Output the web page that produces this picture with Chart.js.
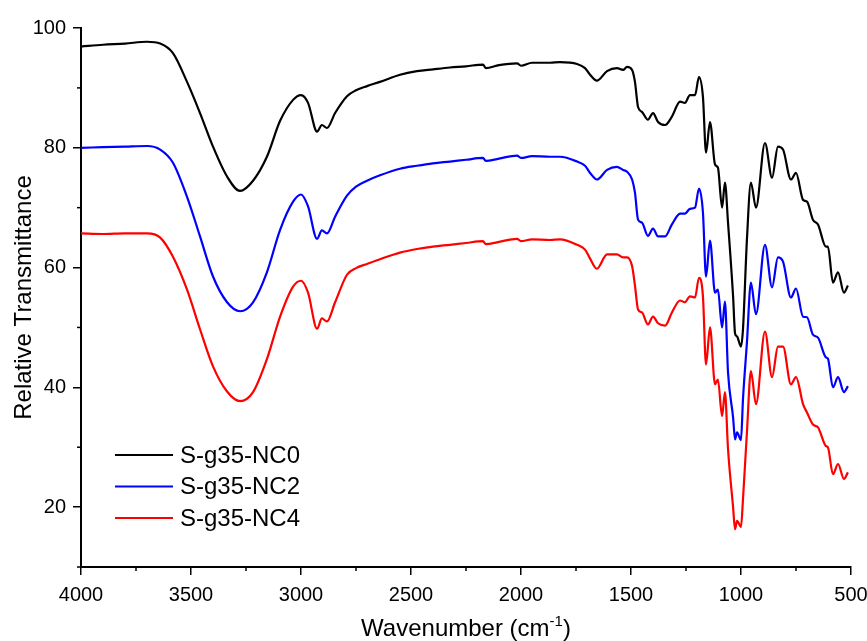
<!DOCTYPE html>
<html>
<head>
<meta charset="utf-8">
<script src="https://cdn.jsdelivr.net/npm/chart.js@4/dist/chart.umd.min.js"></script>
<style>
  html, body { margin: 0; padding: 0; background: #fff; }
  #wrap { width: 867px; height: 641px; position: relative; }
</style>
</head>
<body>
<div id="wrap"><canvas id="ftir-chart" width="867" height="641"></canvas></div>
<script>
// wavenumbers (cm-1), shared by the three spectra
const wavenumbers = [4000, 3900, 3800, 3700, 3640, 3582, 3518, 3459, 3400, 3336, 3277, 3218, 3155, 3095, 3036, 3000, 2968, 2927, 2905, 2882, 2845, 2791, 2750, 2700, 2641, 2550, 2473, 2400, 2323, 2250, 2173, 2160, 2100, 2018, 2000, 1950, 1868, 1823, 1745, 1709, 1686, 1655, 1609, 1564, 1536, 1518, 1495, 1482, 1468, 1450, 1423, 1400, 1377, 1345, 1314, 1277, 1255, 1232, 1209, 1191, 1173, 1159, 1141, 1118, 1105, 1086, 1073, 1059, 1036, 1027, 1018, 1000, 991, 973, 955, 932, 891, 859, 832, 809, 773, 750, 718, 700, 673, 650, 614, 605, 582, 559, 532, 514];

const nc0 = [96.9, 97.2, 97.4, 97.7, 97.4, 95.8, 91, 85.8, 80.2, 75.2, 72.8, 74.5, 78.5, 84.5, 88, 88.8, 87.5, 82.7, 83.8, 83.3, 85.8, 88.6, 89.6, 90.3, 91, 92.2, 92.8, 93.1, 93.4, 93.6, 93.9, 93.3, 93.8, 94.1, 93.7, 94.2, 94.2, 94.3, 94, 93.3, 92.2, 91.2, 92.8, 93.3, 93, 93.5, 93, 91, 86.8, 86, 84.7, 85.8, 84.3, 83.8, 85.2, 87.7, 87.5, 88.8, 88.8, 91.8, 88.5, 79.2, 84.3, 77.2, 76.7, 70, 74.2, 67.5, 55.2, 49, 48.5, 46.8, 49.7, 64.7, 74.2, 70, 80.8, 75, 80.2, 79.7, 74.7, 75.8, 71.3, 71, 68, 67.2, 63.5, 63.5, 57.5, 59.2, 55.8, 57];

const nc2 = [80, 80.1, 80.2, 80.3, 79.7, 77.5, 71.8, 65.2, 58.5, 54.2, 52.7, 54.2, 59.2, 66.3, 71, 72.2, 70.2, 64.8, 66.2, 65.7, 68.5, 72, 73.5, 74.5, 75.4, 76.5, 77, 77.4, 77.7, 78, 78.3, 77.8, 78.2, 78.7, 78.3, 78.6, 78.5, 78.5, 77.7, 77, 75.8, 74.7, 76.3, 76.8, 76.3, 76, 74.7, 72.5, 68, 67.5, 65.3, 66.5, 65.2, 65.2, 67.2, 69, 69, 69.8, 70, 73.2, 69.2, 58.5, 64.5, 55.8, 56.3, 50, 54.3, 42.5, 35, 31.3, 32.5, 31.2, 38, 47.5, 57.5, 52.2, 63.8, 56.7, 61.7, 61, 55, 56.5, 51.8, 51.7, 48.8, 48.3, 45, 44.8, 40, 41.7, 39.2, 40.2];

const nc4 = [65.7, 65.6, 65.7, 65.7, 65, 61.8, 56.3, 49.7, 43.5, 39.3, 37.7, 39.2, 44.7, 51.8, 56.8, 57.8, 55.8, 49.8, 51.5, 51, 54.2, 58.8, 59.9, 60.6, 61.4, 62.5, 63.1, 63.5, 63.8, 64.1, 64.4, 63.9, 64.3, 64.8, 64.4, 64.7, 64.6, 64.7, 63.8, 63, 61.5, 59.8, 62.2, 62.2, 61.7, 61.7, 60.2, 57, 53, 52.5, 50.5, 51.8, 50.7, 50.3, 52.5, 54.5, 54.2, 55.2, 55, 58.3, 55.2, 43.8, 50, 40.5, 41.3, 35.2, 39.2, 29.7, 20, 16.3, 17.7, 16.7, 21.3, 32.5, 42.7, 37.2, 49.3, 41.7, 46.8, 46.8, 40.5, 41.7, 37.2, 35.8, 33.8, 33.3, 30.2, 30, 25.5, 27.2, 24.7, 25.8];

const seriesNames = ["S-g35-NC0", "S-g35-NC2", "S-g35-NC4"];
const seriesColors = ["#000000", "#0000ff", "#ff0000"];

const xTicks = [4000, 3500, 3000, 2500, 2000, 1500, 1000, 500];
const xMinorTicks = [3750, 3250, 2750, 2250, 1750, 1250, 750];
const yTicks = [20, 40, 60, 80, 100];
const yMinorTicks = [10, 30, 50, 70, 90];

const FONT = "'Liberation Sans', Arial, sans-serif";

function toPoints(ys) {
    return wavenumbers.map((w, i) => ({ x: w, y: ys[i] }));
}

// short minor ticks, the legend and the x title with its superscript
const extras = {
    id: 'extras',
    afterDraw(chart) {
        const ctx = chart.ctx;
        const area = chart.chartArea;
        const xs = chart.scales.x;
        const ys = chart.scales.y;
        ctx.save();
        ctx.strokeStyle = '#000';
        ctx.lineWidth = 1.5;
        xMinorTicks.forEach(v => {
            let px = xs.getPixelForValue(v);
            ctx.beginPath();
            ctx.moveTo(px, area.bottom);
            ctx.lineTo(px, area.bottom + 4);
            ctx.stroke();
        });
        yMinorTicks.forEach(v => {
            let py = ys.getPixelForValue(v);
            ctx.beginPath();
            ctx.moveTo(area.left, py);
            ctx.lineTo(area.left - 4, py);
            ctx.stroke();
        });

        // legend
        ctx.font = '24px ' + FONT;
        ctx.textBaseline = 'middle';
        ctx.textAlign = 'left';
        seriesNames.forEach((name, i) => {
            let ly = area.top + 427 + i * 31.5;
            ctx.strokeStyle = seriesColors[i];
            ctx.lineWidth = 2.2;
            ctx.beginPath();
            ctx.moveTo(area.left + 34, ly);
            ctx.lineTo(area.left + 92, ly);
            ctx.stroke();
            ctx.fillStyle = '#000';
            ctx.fillText(name, area.left + 99, ly + 1);
        });

        // x axis title
        let main = 'Wavenumber (cm';
        let sup = '-1';
        let close = ')';
        ctx.font = '24px ' + FONT;
        let w1 = ctx.measureText(main).width;
        let w3 = ctx.measureText(close).width;
        ctx.font = '15px ' + FONT;
        let w2 = ctx.measureText(sup).width;
        let cx = (area.left + area.right) / 2;
        let startX = cx - (w1 + w2 + w3) / 2;
        let baseY = 636;
        ctx.textBaseline = 'alphabetic';
        ctx.fillStyle = '#000';
        ctx.font = '24px ' + FONT;
        ctx.fillText(main, startX, baseY);
        ctx.font = '15px ' + FONT;
        ctx.fillText(sup, startX + w1, baseY - 10);
        ctx.font = '24px ' + FONT;
        ctx.fillText(close, startX + w1 + w2, baseY);
        ctx.restore();
    }
};

let config = {
    type: 'line',
    data: {
        datasets: seriesNames.map((name, i) => ({
            label: name,
            data: toPoints([nc0, nc2, nc4][i]),
            borderColor: seriesColors[i],
            borderWidth: 2.2,
            pointRadius: 0,
            fill: false,
            cubicInterpolationMode: 'monotone'
        }))
    },
    options: {
        responsive: false,
        animation: false,
        layout: { padding: { top: 28, right: 16, left: 0, bottom: 0 } },
        plugins: {
            legend: { display: false },
            tooltip: { enabled: false }
        },
        scales: {
            x: {
                type: 'linear',
                reverse: true,
                min: 500,
                max: 4000,
                afterBuildTicks: scale => { scale.ticks = xTicks.map(v => ({ value: v })); },
                afterFit: scale => {
                    scale.height = 74;
                    scale.paddingLeft = 0;
                    scale.paddingRight = 0;
                },
                grid: { drawOnChartArea: false, color: '#000', lineWidth: 1.5, tickLength: 8 },
                border: { display: true, color: '#000', width: 2 },
                ticks: {
                    color: '#000',
                    font: { family: FONT, size: 20 },
                    padding: 8,
                    maxRotation: 0,
                    callback: v => String(v)
                },
                title: { display: false }
            },
            y: {
                min: 10,
                max: 100,
                afterBuildTicks: scale => { scale.ticks = yTicks.map(v => ({ value: v })); },
                afterFit: scale => {
                    scale.width = 81;
                    scale.paddingTop = 0;
                    scale.paddingBottom = 0;
                },
                grid: { drawOnChartArea: false, color: '#000', lineWidth: 1.5, tickLength: 8 },
                border: { display: true, color: '#000', width: 2 },
                ticks: { color: '#000', font: { family: FONT, size: 20 }, padding: 7 },
                title: {
                    display: true,
                    text: 'Relative Transmittance',
                    color: '#000',
                    font: { family: FONT, size: 24 },
                    padding: { top: 10, bottom: 0 }
                }
            }
        }
    },
    plugins: [extras]
};

let ftir_chart = new Chart(document.getElementById('ftir-chart'), config);
</script>
</body>
</html>
